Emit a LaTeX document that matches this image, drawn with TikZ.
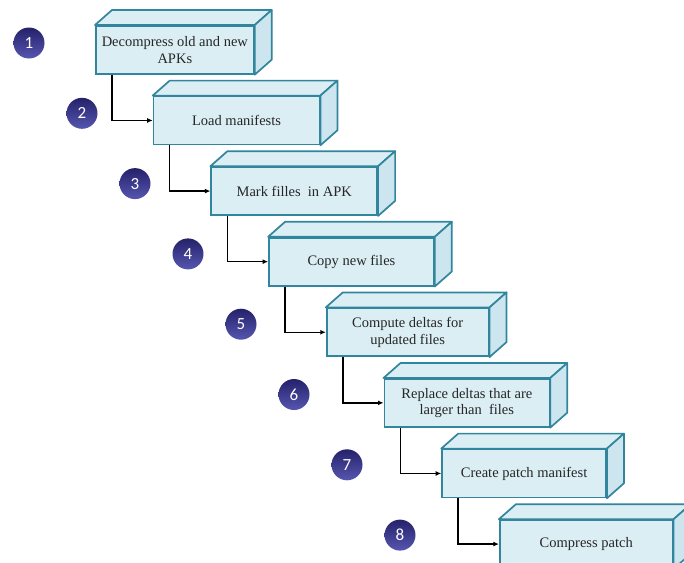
\documentclass[tikz,border=0pt]{standalone}
\usepackage{fontspec}
\setmainfont{Liberation Serif}
\newfontfamily\numfont{Carlito}
\usetikzlibrary{arrows.meta}
\definecolor{boxfill}{HTML}{DBEEF4}
\definecolor{boxline}{HTML}{31859C}
\definecolor{sidefill}{HTML}{CCE5EE}
\definecolor{balltop}{HTML}{25216A}
\definecolor{ballbot}{HTML}{5656B0}
\definecolor{steptext}{HTML}{262626}
\tikzset{
  stepbox/.style={draw=boxline, fill=boxfill, line width=1.7pt, minimum height=48pt,
    inner sep=0pt, align=center, text=steptext, font=\fontsize{14.5}{16.5}\selectfont},
  facebox/.style={draw=boxline, fill=boxfill, line width=1.7pt, line join=round},
  numball/.style={circle, minimum size=31pt, inner sep=0pt, top color=balltop,
    bottom color=ballbot, text=white, font=\numfont\fontsize{17}{17}\selectfont},
  flow/.style={-{Latex[length=5.5pt,width=5pt]}, line width=1.5pt}
}

\begin{document}
\begin{tikzpicture}[x=1pt,y=-1pt]
  \useasboundingbox (0,0) rectangle (684,562);
  \clip (0,0) rectangle (684,562);
  % boxes of the steps
  \foreach \i/\w/\txt in {1/158/{Decompress old and new\\APKs}, 2/166/{Load manifests},
      3/166/{Mark filles~ in APK}, 4/165/{Copy new files},
      5/162/{Compute deltas for\\updated files}, 6/165/{Replace deltas that are\\larger than~ files},
      7/164/{Create patch manifest}, 8/173/{Compress patch}} {
    \node[stepbox, minimum width=\w pt, anchor=north west] (s\i)
      at ({95+57.7*(\i-1)},{25+70.6*(\i-1)}) {\txt};
    \draw[facebox] (s\i.north west) -- ++(17,-15) -- ([shift={(17,-15)}]s\i.north east)
      -- (s\i.north east) -- cycle;
    \draw[facebox, fill=sidefill] (s\i.north east) -- ++(17,-15)
      -- ([shift={(17,-15)}]s\i.south east) -- (s\i.south east) -- cycle;
    \node[numball] (n\i) at ({29+53*(\i-1)},{43+70.3*(\i-1)}) {\i};
  }
  % connectors
  \foreach \i [evaluate=\i as \j using int(\i+1)] in {1,...,7}
    \draw[flow] ([xshift=17pt]s\i.south west) |- (s\j.west);
\end{tikzpicture}
\end{document}
